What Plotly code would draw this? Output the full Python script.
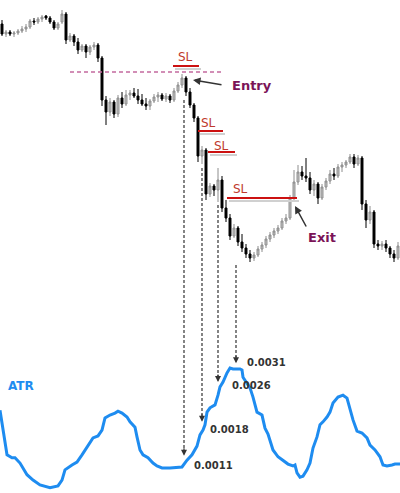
import plotly.graph_objects as go

# Candles (one bar per index), price values
bars = list(range(100))

open_px = [1.3276, 1.3266, 1.3268, 1.3266, 1.3267, 1.3269, 1.3271, 1.3273, 1.3279, 1.3278,
           1.3281, 1.3284, 1.3282, 1.3278, 1.3272, 1.3278, 1.3286, 1.3260, 1.3264, 1.3258,
           1.3250, 1.3254, 1.3248, 1.3253, 1.3255, 1.3242, 1.3200, 1.3188, 1.3198, 1.3186,
           1.3202, 1.3196, 1.3205, 1.3207, 1.3204, 1.3200, 1.3196, 1.3194, 1.3199, 1.3203,
           1.3205, 1.3201, 1.3204, 1.3200, 1.3209, 1.3215, 1.3222, 1.3208, 1.3195, 1.3182,
           1.3144, 1.3150, 1.3106, 1.3114, 1.3110, 1.3120, 1.3092, 1.3082, 1.3064, 1.3072,
           1.3058, 1.3052, 1.3046, 1.3042, 1.3045, 1.3051, 1.3055, 1.3061, 1.3065, 1.3069,
           1.3072, 1.3079, 1.3082, 1.3102, 1.3118, 1.3128, 1.3124, 1.3122, 1.3110, 1.3116,
           1.3102, 1.3113, 1.3119, 1.3126, 1.3124, 1.3133, 1.3135, 1.3138, 1.3143, 1.3136,
           1.3142, 1.3096, 1.3080, 1.3088, 1.3056, 1.3054, 1.3056, 1.3052, 1.3046, 1.3042]

high_px = [1.3280, 1.3270, 1.3270, 1.3269, 1.3271, 1.3274, 1.3276, 1.3281, 1.3282, 1.3283,
           1.3285, 1.3285, 1.3284, 1.3280, 1.3278, 1.3290, 1.3288, 1.3267, 1.3266, 1.3262,
           1.3256, 1.3256, 1.3255, 1.3258, 1.3257, 1.3244, 1.3204, 1.3202, 1.3200, 1.3205,
           1.3208, 1.3210, 1.3210, 1.3212, 1.3211, 1.3206, 1.3202, 1.3201, 1.3206, 1.3208,
           1.3207, 1.3207, 1.3206, 1.3212, 1.3218, 1.3226, 1.3224, 1.3212, 1.3197, 1.3184,
           1.3154, 1.3152, 1.3117, 1.3116, 1.3132, 1.3124, 1.3100, 1.3086, 1.3076, 1.3074,
           1.3066, 1.3056, 1.3050, 1.3048, 1.3054, 1.3058, 1.3064, 1.3068, 1.3072, 1.3075,
           1.3082, 1.3086, 1.3105, 1.3130, 1.3135, 1.3134, 1.3142, 1.3128, 1.3120, 1.3118,
           1.3116, 1.3122, 1.3130, 1.3132, 1.3136, 1.3138, 1.3140, 1.3146, 1.3146, 1.3145,
           1.3144, 1.3100, 1.3094, 1.3090, 1.3060, 1.3059, 1.3060, 1.3054, 1.3050, 1.3058]

low_px = [1.3264, 1.3263, 1.3264, 1.3263, 1.3265, 1.3267, 1.3268, 1.3271, 1.3275, 1.3276,
          1.3278, 1.3280, 1.3276, 1.3270, 1.3270, 1.3276, 1.3256, 1.3258, 1.3254, 1.3246,
          1.3248, 1.3242, 1.3245, 1.3250, 1.3238, 1.3194, 1.3175, 1.3184, 1.3182, 1.3183,
          1.3192, 1.3194, 1.3200, 1.3202, 1.3196, 1.3194, 1.3190, 1.3190, 1.3197, 1.3198,
          1.3199, 1.3198, 1.3197, 1.3198, 1.3207, 1.3212, 1.3204, 1.3192, 1.3178, 1.3138,
          1.3136, 1.3100, 1.3103, 1.3104, 1.3098, 1.3088, 1.3078, 1.3060, 1.3062, 1.3054,
          1.3048, 1.3042, 1.3038, 1.3039, 1.3043, 1.3048, 1.3052, 1.3058, 1.3062, 1.3066,
          1.3070, 1.3076, 1.3080, 1.3100, 1.3115, 1.3120, 1.3118, 1.3106, 1.3104, 1.3096,
          1.3100, 1.3110, 1.3116, 1.3120, 1.3122, 1.3128, 1.3132, 1.3136, 1.3132, 1.3134,
          1.3090, 1.3072, 1.3076, 1.3052, 1.3050, 1.3050, 1.3048, 1.3042, 1.3038, 1.3040]

close_px = [1.3266, 1.3268, 1.3266, 1.3267, 1.3269, 1.3271, 1.3273, 1.3279, 1.3278, 1.3281,
            1.3283, 1.3282, 1.3278, 1.3272, 1.3276, 1.3286, 1.3260, 1.3264, 1.3258, 1.3250,
            1.3254, 1.3248, 1.3253, 1.3255, 1.3242, 1.3200, 1.3188, 1.3198, 1.3186, 1.3202,
            1.3196, 1.3205, 1.3207, 1.3204, 1.3200, 1.3196, 1.3194, 1.3199, 1.3203, 1.3205,
            1.3201, 1.3204, 1.3200, 1.3209, 1.3215, 1.3222, 1.3208, 1.3195, 1.3182, 1.3144,
            1.3150, 1.3106, 1.3114, 1.3110, 1.3120, 1.3092, 1.3082, 1.3064, 1.3072, 1.3058,
            1.3052, 1.3046, 1.3042, 1.3045, 1.3051, 1.3055, 1.3061, 1.3065, 1.3069, 1.3072,
            1.3079, 1.3082, 1.3102, 1.3118, 1.3128, 1.3124, 1.3122, 1.3110, 1.3116, 1.3102,
            1.3113, 1.3119, 1.3126, 1.3124, 1.3133, 1.3135, 1.3138, 1.3143, 1.3136, 1.3142,
            1.3096, 1.3080, 1.3088, 1.3056, 1.3054, 1.3056, 1.3052, 1.3046, 1.3042, 1.3054]

# ATR line (bar position, value)
atr_x = [-0.5, 0, 0.75, 1.25, 2.5, 3.25, 4.5, 5.25, 6.25, 7.75, 9.5, 12, 14, 15, 15.75,
         17.5, 18.75, 20, 21.5, 22.75, 24, 25, 25.75, 27, 28.25, 29, 30, 31.25, 32, 33.25,
         33.75, 34.5, 35.25, 36.5, 37.75, 38.75, 40, 42, 45, 46.25, 47.5, 48.75, 49.5, 50.25,
         50.75, 51.25, 52, 53.25, 54, 54.5, 55.25, 56.25, 57, 57.75, 59.5, 60, 60.25, 62,
         62.75, 63.75, 65, 65.75, 66.5, 67.75, 69, 70.25, 71.5, 72.75, 73.25, 73.75, 74.5,
         75.25, 76.25, 77, 77.75, 78.75, 79.5, 80.25, 81.25, 82, 82.75, 84, 85.25, 86.25, 87,
         87.75, 88.75, 90, 91.25, 92, 93.25, 94.5, 95.25, 96.25, 97.5, 98.25, 99.5]
atr_val = [0.00223, 0.00199, 0.00162, 0.00131, 0.00125, 0.00125, 0.00114, 0.00104, 0.00090,
           0.00079, 0.00069, 0.00063, 0.00067, 0.00079, 0.00100, 0.00110, 0.00116, 0.00131,
           0.00151, 0.00166, 0.00170, 0.00182, 0.00207, 0.00213, 0.00217, 0.00221, 0.00217,
           0.00209, 0.00199, 0.00188, 0.00168, 0.00141, 0.00131, 0.00125, 0.00114, 0.00108,
           0.00104, 0.00104, 0.00106, 0.00120, 0.00131, 0.00149, 0.00172, 0.00182, 0.00193,
           0.00219, 0.00228, 0.00234, 0.00254, 0.00271, 0.00281, 0.00300, 0.00310, 0.00308,
           0.00308, 0.00306, 0.00291, 0.00269, 0.00250, 0.00219, 0.00213, 0.00186, 0.00174,
           0.00141, 0.00127, 0.00120, 0.00112, 0.00108, 0.00110, 0.00094, 0.00085, 0.00087,
           0.00100, 0.00114, 0.00145, 0.00168, 0.00193, 0.00199, 0.00209, 0.00219, 0.00238,
           0.00250, 0.00254, 0.00248, 0.00223, 0.00203, 0.00180, 0.00176, 0.00166, 0.00151,
           0.00141, 0.00127, 0.00110, 0.00108, 0.00110, 0.00112, 0.00112]

# trade levels
entry_level = 1.3228
entry_from, entry_to = 17, 55
sl_levels = [1.3234, 1.3169, 1.3148, 1.3102]
sl_from = [42.75, 49, 51.5, 56.25]
sl_to = [49.25, 55.25, 58.25, 73.75]
sl_text_x = [45.75, 51.5, 54.75, 59.5]
sl_text_y = [1.3243, 1.3177, 1.3154, 1.3111]

# dashed arrows from the SL moves down to the ATR reading
sig_x = [45.5, 50, 54, 58.5]
sig_top = [1.3200, 1.3132, 1.3095, 1.3035]
sig_tip = [0.00129, 0.00199, 0.00281, 0.00320]
atr_labels = ['0.0011', '0.0018', '0.0026', '0.0031']
label_x = [47.5, 51.5, 57, 60.75]
label_y = [0.00108, 0.00184, 0.00273, 0.00322]

# both axes cover the whole canvas
price_range = [1.2807, 1.3300]
atr_range = [0.000523, 0.010688]


def atr_to_price(v):
    frac = (v - atr_range[0]) / (atr_range[1] - atr_range[0])
    return price_range[0] + frac * (price_range[1] - price_range[0])


FONT = 'DejaVu Sans'
fig = go.Figure()

fig.add_trace(go.Candlestick(x=bars, open=open_px, high=high_px, low=low_px, close=close_px,
                             increasing=dict(line=dict(color='#8e8e8e', width=1), fillcolor='#c4c4c4'),
                             decreasing=dict(line=dict(color='#000000', width=1), fillcolor='#000000'),
                             whiskerwidth=0, showlegend=False, hoverinfo='skip'))

fig.add_trace(go.Scatter(x=atr_x, y=atr_val, yaxis='y2', mode='lines',
                         line=dict(color='#1e8cf0', width=3), showlegend=False, hoverinfo='skip'))

# entry level
fig.add_shape(type='line', xref='x', yref='y', x0=entry_from, x1=entry_to,
              y0=entry_level, y1=entry_level, line=dict(color='#c46a9e', width=1.5, dash='4px,3px'))

# stop loss lines with a soft shadow
for i in range(len(sl_levels)):
    fig.add_shape(type='line', xref='x', yref='y', x0=sl_from[i] + 0.5, x1=sl_to[i] + 0.5,
                  y0=sl_levels[i] - 0.0003, y1=sl_levels[i] - 0.0003,
                  line=dict(color='#d0d0d0', width=2))
    fig.add_shape(type='line', xref='x', yref='y', x0=sl_from[i], x1=sl_to[i],
                  y0=sl_levels[i], y1=sl_levels[i], line=dict(color='#cc1111', width=2))
    fig.add_annotation(x=sl_text_x[i], y=sl_text_y[i], text='SL', showarrow=False,
                       font=dict(family=FONT, size=12, color='#c0392b'))

# dashed drop lines + arrowheads + ATR readings
for i in range(len(sig_x)):
    fig.add_shape(type='line', xref='x', yref='y', x0=sig_x[i], x1=sig_x[i],
                  y0=sig_top[i], y1=atr_to_price(sig_tip[i]) + 0.0006,
                  line=dict(color='#333333', width=1.2, dash='3px,2px'))
    fig.add_annotation(x=sig_x[i], y=sig_tip[i], yref='y2', text='', showarrow=True,
                       ax=0, ay=-9, arrowhead=2, arrowsize=1, arrowwidth=1.2,
                       arrowcolor='#333333')
    fig.add_annotation(x=label_x[i], y=label_y[i], yref='y2', text='<b>' + atr_labels[i] + '</b>',
                       showarrow=False, xanchor='left',
                       font=dict(family=FONT, size=10, color='#333333'))

# Entry / Exit callouts
fig.add_annotation(x=47.75, y=1.3220, text='', showarrow=True, ax=30, ay=5,
                   arrowhead=2, arrowsize=1, arrowwidth=1.5, arrowcolor='#333333')
fig.add_annotation(x=62.5, y=1.3215, text='<b>Entry</b>', showarrow=False,
                   font=dict(family=FONT, size=13, color='#7b1457'))
fig.add_annotation(x=73.25, y=1.3094, text='', showarrow=True, ax=12, ay=22,
                   arrowhead=2, arrowsize=1, arrowwidth=1.5, arrowcolor='#333333')
fig.add_annotation(x=80, y=1.3063, text='<b>Exit</b>', showarrow=False,
                   font=dict(family=FONT, size=13, color='#7b1457'))

fig.add_annotation(x=4.75, y=0.00273, yref='y2', text='<b>ATR</b>', showarrow=False,
                   font=dict(family=FONT, size=12, color='#1e8cf0'))

fig.update_layout(width=400, height=493, margin=dict(l=0, r=0, t=0, b=0),
                  paper_bgcolor='white', plot_bgcolor='white',
                  xaxis=dict(range=[-0.5, 99.5], visible=False, rangeslider=dict(visible=False)),
                  yaxis=dict(range=price_range, visible=False),
                  yaxis2=dict(range=atr_range, overlaying='y', visible=False))

# drop the default page margin so the figure sits at the window's corner
fig.write_html("out.html", config={'displayModeBar': False},
               post_script="document.body.style.margin='0px';")
